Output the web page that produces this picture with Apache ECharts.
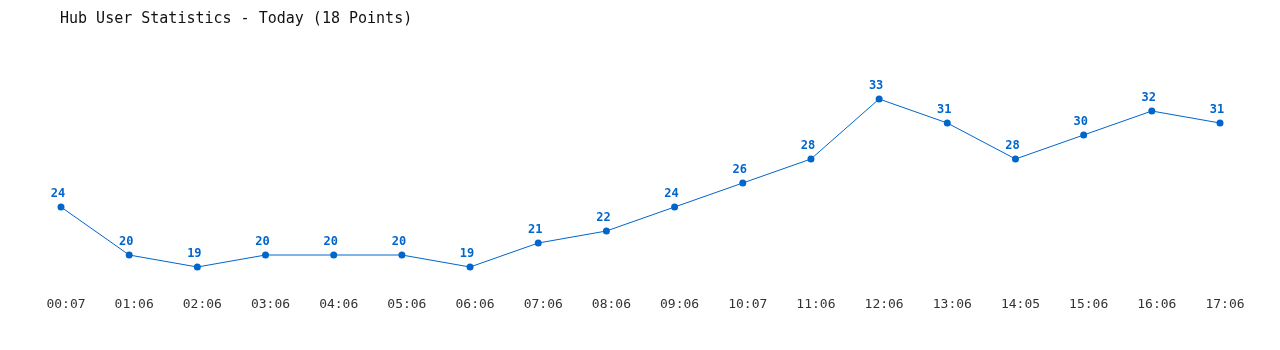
<!DOCTYPE html>
<html>
<head>
<meta charset="utf-8">
<script src="https://cdn.jsdelivr.net/npm/echarts@6/dist/echarts.min.js"></script>
<style>
html,body{margin:0;padding:0;background:#fff;}
#chart{width:1280px;height:350px;}
</style>
</head>
<body>
<div id="chart"></div>
<script>
const categories = ["00:07","01:06","02:06","03:06","04:06","05:06","06:06","07:06","08:06","09:06","10:07","11:06","12:06","13:06","14:05","15:06","16:06","17:06"];
const users = [24,20,19,20,20,20,19,21,22,24,26,28,33,31,28,30,32,31];
const titleText = "Hub User Statistics - Today (18 Points)";

const chart = echarts.init(document.getElementById('chart'), null, {renderer:'canvas'});
chart.setOption({
  animation: false,
  backgroundColor: '#ffffff',
  title: {
    text: titleText,
    left: 55, top: 7,
    textStyle: {fontFamily: 'DejaVu Sans Mono', fontSize: 15, fontWeight: 'normal', color: '#111'}
  },
  grid: {left: 61, right: 60, top: 63, bottom: 59},
  xAxis: {
    type: 'category', data: categories, boundaryGap: false,
    axisLine: {show: false}, axisTick: {show: false}, splitLine: {show: false},
    axisLabel: {fontFamily: 'DejaVu Sans Mono', fontSize: 13, color: '#333', margin: 7, interval: 0, padding: [0, 0, 0, 10]}
  },
  yAxis: {
    type: 'value', min: 17, max: 36, show: false, splitLine: {show: false}
  },
  series: [{
    type: 'line', data: users,
    symbol: 'circle', symbolSize: 7,
    lineStyle: {width: 1, color: '#0066cc'},
    itemStyle: {color: '#0066cc'},
    label: {show: true, position: 'top', distance: 4, offset: [-3, 0], fontFamily: 'DejaVu Sans Mono', fontSize: 12, fontWeight: 'bold', color: '#0066cc'}
  }]
});
</script>
</body>
</html>
